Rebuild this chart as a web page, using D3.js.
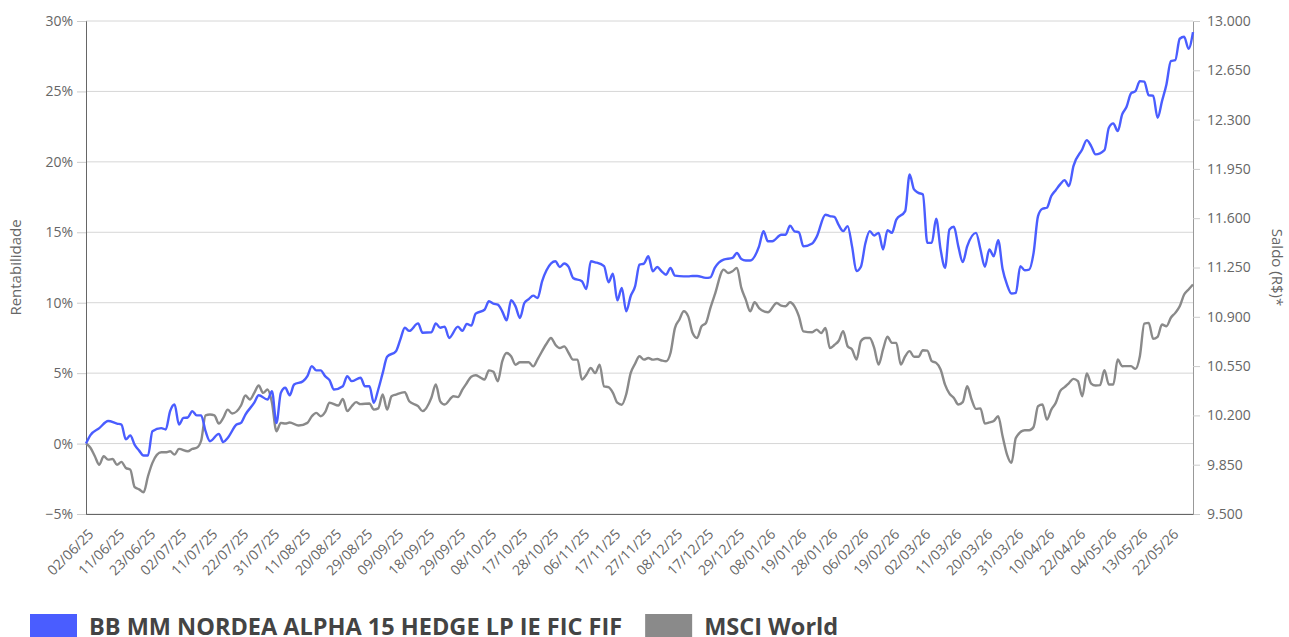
<!DOCTYPE html>
<html>
<head>
<meta charset="utf-8">
<script src="https://cdn.jsdelivr.net/npm/d3@7"></script>
<style>
  html, body { margin: 0; padding: 0; background: #fff; }
  svg text { font-family: "Open Sans", "DejaVu Sans", sans-serif; }
</style>
</head>
<body>
<svg id="chart" width="1289" height="637"></svg>
<script>
// Tick labels on the x axis, one every 7 trading sessions
const sessionLabels = [
  "02/06/25", "11/06/25", "23/06/25", "02/07/25", "11/07/25", "22/07/25", "31/07/25",
  "11/08/25", "20/08/25", "29/08/25", "09/09/25", "18/09/25", "29/09/25", "08/10/25",
  "17/10/25", "28/10/25", "06/11/25", "17/11/25", "27/11/25", "08/12/25", "17/12/25",
  "29/12/25", "08/01/26", "19/01/26", "28/01/26", "06/02/26", "19/02/26", "02/03/26",
  "11/03/26", "20/03/26", "31/03/26", "10/04/26", "22/04/26", "04/05/26", "13/05/26",
  "22/05/26"
];
const labelStep = 7;
const lastSession = 250;

// Series names and colours
const seriesNames = ["BB MM NORDEA ALPHA 15 HEDGE LP IE FIC FIF", "MSCI World"];
const seriesColors = ["#4a5dff", "#8a8a8a"];

// Cumulative return (%) by trading session: [session, value]
const fundReturns = [
  [0, 0], [1, 0.6], [3, 1.1], [5, 1.6], [7, 1.42], [8, 1.35], [9, 0.3], [10, 0.57], [11, -0.1],
  [12, -0.5], [13, -0.85], [14, -0.85], [15, 0.88], [17, 1.1], [18, 1.0], [19, 2.3], [20, 2.77],
  [21, 1.35], [22, 1.82], [23, 1.85], [24, 2.3], [25, 2.0], [26, 2.0], [27, 0.88], [28, 0.17],
  [30, 0.69], [31, 0.1], [32, 0.4], [34, 1.35], [35, 1.47], [36, 2.06], [38, 2.9], [39, 3.43],
  [41, 3.13], [42, 3.72], [43, 1.45], [44, 3.6], [45, 3.96], [46, 3.43], [47, 4.19], [49, 4.43],
  [50, 4.79], [51, 5.5], [52, 5.2], [53, 5.2], [54, 4.79], [55, 4.5], [56, 3.84], [58, 4.07],
  [59, 4.79], [60, 4.43], [62, 4.67], [63, 4.07], [64, 4.07], [65, 2.9], [66, 3.84], [67, 5.0],
  [68, 6.16], [70, 6.56], [71, 7.4], [72, 8.22], [73, 8.0], [75, 8.53], [76, 7.87], [78, 7.9],
  [79, 8.53], [80, 8.22], [81, 8.3], [82, 7.5], [84, 8.3], [85, 8.0], [86, 8.5], [87, 8.37],
  [88, 9.22], [90, 9.5], [91, 10.1], [92, 9.93], [93, 9.86], [94, 9.39], [95, 8.75], [96, 10.17],
  [97, 9.74], [98, 8.92], [99, 9.98], [100, 10.26], [101, 10.5], [102, 10.33], [103, 11.52],
  [104, 12.3], [106, 12.94], [107, 12.54], [108, 12.78], [109, 12.54], [110, 11.76], [112, 11.52],
  [113, 10.97], [114, 12.94], [115, 12.87], [117, 12.6], [118, 11.45], [119, 12.06], [120, 10.17],
  [121, 11.05], [122, 9.39], [123, 10.46], [124, 11.16], [125, 12.7], [126, 12.78], [127, 13.3],
  [128, 12.23], [129, 12.54], [130, 12.23], [131, 11.99], [132, 12.47], [133, 11.92], [135, 11.87],
  [136, 11.87], [137, 11.9], [138, 11.9], [140, 11.76], [141, 11.8], [142, 12.47], [144, 13.06],
  [146, 13.18], [147, 13.53], [148, 13.1], [149, 13.0], [150, 13.0], [152, 14.0], [153, 15.07],
  [154, 14.36], [155, 14.36], [157, 14.83], [158, 14.83], [159, 15.47], [160, 15.07], [161, 15.0],
  [162, 14.0], [164, 14.2], [165, 14.67], [167, 16.25], [168, 16.15], [169, 16.1], [170, 15.5],
  [171, 15.08], [172, 15.44], [173, 14.0], [174, 12.24], [175, 12.55], [176, 14.2], [177, 15.08],
  [178, 14.77], [179, 14.96], [180, 13.78], [181, 15.15], [182, 14.96], [183, 15.9], [185, 16.5],
  [186, 19.1], [187, 18.04], [188, 17.8], [189, 17.68], [190, 14.25], [191, 14.25], [192, 15.96],
  [193, 13.78], [194, 12.48], [195, 15.2], [196, 15.39], [197, 14.0], [198, 12.88], [199, 14.0],
  [201, 14.96], [202, 13.78], [203, 12.55], [204, 13.78], [205, 13.3], [206, 14.44], [207, 12.4],
  [208, 11.29], [209, 10.65], [210, 10.7], [211, 12.6], [212, 12.31], [213, 12.35], [214, 13.54],
  [215, 16.15], [216, 16.67], [217, 16.74], [218, 17.57], [219, 17.99], [220, 18.4], [221, 18.7],
  [222, 18.28], [223, 19.7], [225, 20.9], [226, 21.54], [227, 21.12], [228, 20.53], [230, 20.83],
  [231, 22.42], [232, 22.73], [233, 22.18], [234, 23.37], [235, 23.91], [236, 24.86], [237, 25.02],
  [238, 25.73], [239, 25.7], [240, 24.72], [241, 24.7], [242, 23.13], [243, 24.31], [244, 25.5],
  [245, 27.15], [246, 27.22], [247, 28.74], [248, 28.88], [249, 28.03], [250, 29.21]
];

const msciReturns = [
  [0, 0], [1, -0.3], [2, -0.9], [3, -1.5], [4, -0.9], [5, -1.14], [6, -1.1], [7, -1.5], [8, -1.3],
  [9, -1.73], [10, -1.85], [11, -3.1], [12, -3.25], [13, -3.46], [14, -2.32], [15, -1.37],
  [17, -0.62], [18, -0.62], [19, -0.55], [20, -0.78], [21, -0.38], [23, -0.55], [24, -0.38],
  [25, -0.3], [26, 0.2], [27, 2.0], [28, 2.06], [29, 2.0], [30, 1.42], [31, 1.82], [32, 2.41],
  [33, 2.13], [35, 2.7], [36, 3.41], [37, 3.13], [38, 3.6], [39, 4.12], [40, 3.6], [41, 3.84],
  [42, 2.9], [43, 0.88], [44, 1.47], [45, 1.42], [46, 1.5], [48, 1.28], [50, 1.47], [51, 1.94],
  [52, 2.18], [53, 1.94], [54, 2.23], [55, 2.9], [57, 2.7], [58, 3.17], [59, 2.3], [60, 2.65],
  [61, 2.94], [62, 2.8], [64, 2.85], [65, 2.41], [66, 2.5], [67, 3.48], [68, 2.41], [69, 3.36],
  [70, 3.48], [72, 3.65], [73, 3.0], [75, 2.65], [76, 2.3], [78, 3.25], [79, 4.2], [80, 3.0],
  [81, 2.77], [83, 3.36], [84, 3.3], [85, 3.83], [86, 4.3], [87, 4.75], [88, 4.85], [89, 4.7],
  [90, 4.54], [91, 5.2], [92, 5.1], [93, 4.42], [94, 5.84], [95, 6.43], [96, 6.2], [97, 5.6],
  [98, 5.77], [100, 5.77], [101, 5.48], [102, 6.0], [104, 7.09], [105, 7.5], [106, 7.02],
  [107, 6.78], [108, 6.9], [109, 6.43], [110, 5.96], [111, 5.96], [112, 4.54], [113, 4.89],
  [114, 5.36], [115, 5.0], [116, 5.6], [117, 4.06], [118, 4.0], [119, 3.6], [120, 2.9],
  [121, 2.76], [122, 3.5], [123, 5.0], [124, 5.67], [125, 6.2], [126, 5.96], [127, 6.07],
  [128, 5.96], [129, 6.0], [130, 5.9], [131, 5.84], [132, 6.43], [133, 8.2], [134, 8.8],
  [135, 9.39], [136, 9.03], [137, 7.85], [138, 7.5], [139, 8.32], [140, 8.56], [141, 9.62],
  [142, 10.57], [144, 12.35], [145, 12.11], [146, 12.23], [147, 12.47], [148, 11.05], [149, 10.22],
  [150, 9.39], [151, 10.03], [152, 9.62], [154, 9.32], [156, 9.98], [157, 9.79], [158, 9.75],
  [159, 10.03], [160, 9.74], [161, 9.03], [162, 7.97], [164, 7.9], [165, 8.09], [166, 7.85],
  [167, 8.2], [168, 6.78], [169, 7.0], [170, 7.3], [171, 7.98], [172, 6.91], [173, 6.68],
  [174, 5.97], [175, 7.27], [176, 7.5], [177, 7.5], [178, 6.79], [179, 5.61], [180, 6.68],
  [181, 7.58], [182, 7.15], [183, 7.15], [184, 5.61], [185, 6.2], [186, 6.56], [187, 6.16],
  [188, 6.16], [189, 6.63], [190, 6.6], [191, 5.85], [192, 5.73], [193, 5.26], [194, 4.19],
  [195, 3.55], [196, 3.24], [197, 2.77], [198, 2.94], [199, 4.07], [200, 3.13], [201, 2.46],
  [202, 2.5], [203, 1.42], [204, 1.5], [205, 1.6], [206, 1.94], [207, 0.52], [208, -0.78],
  [209, -1.37], [210, 0.4], [212, 0.95], [213, 0.95], [214, 1.18], [215, 2.65], [216, 2.77],
  [217, 1.7], [218, 2.41], [219, 2.89], [220, 3.72], [221, 4.0], [222, 4.3], [223, 4.59],
  [224, 4.43], [225, 3.36], [226, 4.97], [227, 4.26], [228, 4.12], [229, 4.15], [230, 5.21],
  [231, 4.19], [232, 4.19], [233, 5.97], [234, 5.49], [235, 5.5], [236, 5.5], [237, 5.3],
  [238, 6.2], [239, 8.52], [240, 8.57], [241, 7.43], [242, 7.58], [243, 8.45], [244, 8.33],
  [245, 8.93], [246, 9.28], [247, 9.75], [248, 10.58], [249, 10.94], [250, 11.29]
];

// Axis ticks
const returnTicks = [-5, 0, 5, 10, 15, 20, 25, 30];
const balanceTicks = [9500, 9850, 10200, 10550, 10900, 11250, 11600, 11950, 12300, 12650, 13000];

// Layout
const width = 1289;
const height = 637;
const margin = { top: 21, right: 96, bottom: 123, left: 86 };
const innerBottom = height - margin.bottom;
const innerRight = width - margin.right;

const svg = d3.select('#chart');

// Scales
const x = d3.scaleLinear().domain([0, lastSession]).range([margin.left, innerRight]);
const y = d3.scaleLinear().domain([-5, 30]).range([innerBottom, margin.top]);
const yRight = d3.scaleLinear().domain([9500, 13000]).range([innerBottom, margin.top]);

const ptBR = d3.formatLocale({ decimal: ',', thousands: '.', grouping: [3], currency: ['R$', ''] });
const fmtBalance = ptBR.format(',d');
const fmtInt = d3.format('d');

// Grid lines
svg.append('g')
  .attr('class', 'grid')
  .selectAll('line')
  .data(returnTicks)
  .join('line')
  .attr('x1', margin.left)
  .attr('x2', innerRight)
  .attr('y1', d => y(d))
  .attr('y2', d => y(d))
  .attr('stroke', '#d6d6d6')
  .attr('stroke-width', 1);

// Left axis
const leftAxis = svg.append('g')
  .attr('transform', `translate(${margin.left},0)`)
  .call(d3.axisLeft(y).tickValues(returnTicks).tickSize(9).tickPadding(4).tickFormat(d => fmtInt(d) + '%'));
leftAxis.select('.domain').attr('stroke', '#666');
leftAxis.selectAll('.tick line').attr('stroke', '#ccc');
leftAxis.selectAll('text').attr('fill', '#666').style('font-size', '14px');

// Right axis
const rightAxis = svg.append('g')
  .attr('transform', `translate(${innerRight},0)`)
  .call(d3.axisRight(yRight).tickValues(balanceTicks).tickSize(7).tickPadding(7).tickFormat(fmtBalance));
rightAxis.select('.domain').attr('stroke', '#999');
rightAxis.selectAll('.tick line').attr('stroke', '#ccc');
rightAxis.selectAll('text').attr('fill', '#666').style('font-size', '14px');

// Bottom axis
const bottomAxis = svg.append('g')
  .attr('transform', `translate(0,${innerBottom})`)
  .call(d3.axisBottom(x)
    .tickValues(sessionLabels.map((d, i) => i * labelStep))
    .tickSize(0)
    .tickFormat((d, i) => sessionLabels[i]));
bottomAxis.select('.domain').attr('stroke', '#666');
bottomAxis.selectAll('text')
  .attr('fill', '#666')
  .style('font-size', '14px')
  .attr('text-anchor', 'end')
  .attr('dy', null)
  .attr('y', null)
  .attr('transform', 'translate(8,21) rotate(-45)');

// Axis titles
svg.append('text')
  .attr('transform', `translate(21,${(margin.top + innerBottom) / 2}) rotate(-90)`)
  .attr('text-anchor', 'middle')
  .attr('fill', '#666')
  .style('font-size', '15px')
  .text('Rentabilidade');

svg.append('text')
  .attr('transform', `translate(1272,${(margin.top + innerBottom) / 2}) rotate(90)`)
  .attr('text-anchor', 'middle')
  .attr('fill', '#666')
  .style('font-size', '15px')
  .text('Saldo (R$)*');

// Lines
const line = d3.line()
  .x(d => x(d[0]))
  .y(d => y(d[1]))
  .curve(d3.curveMonotoneX);

const seriesData = [msciReturns, fundReturns];
const seriesOrder = [1, 0];
svg.append('g')
  .selectAll('path')
  .data(seriesData)
  .join('path')
  .attr('d', line)
  .attr('fill', 'none')
  .attr('stroke', (d, i) => seriesColors[seriesOrder[i]])
  .attr('stroke-width', 2.4)
  .attr('stroke-linejoin', 'round');

// Legend
const legend = svg.append('g').attr('transform', 'translate(30,614)');
let offset = 0;
seriesNames.forEach((name, i) => {
  const item = legend.append('g').attr('transform', `translate(${offset},0)`);
  item.append('rect')
    .attr('width', 47)
    .attr('height', 24)
    .attr('fill', seriesColors[i]);
  const label = item.append('text')
    .attr('x', 59)
    .attr('y', 21)
    .attr('fill', '#444')
    .style('font-size', '23.5px')
    .style('font-weight', 'bold')
    .text(name);
  offset += 59 + label.node().getComputedTextLength() + 23;
});
</script>
</body>
</html>
